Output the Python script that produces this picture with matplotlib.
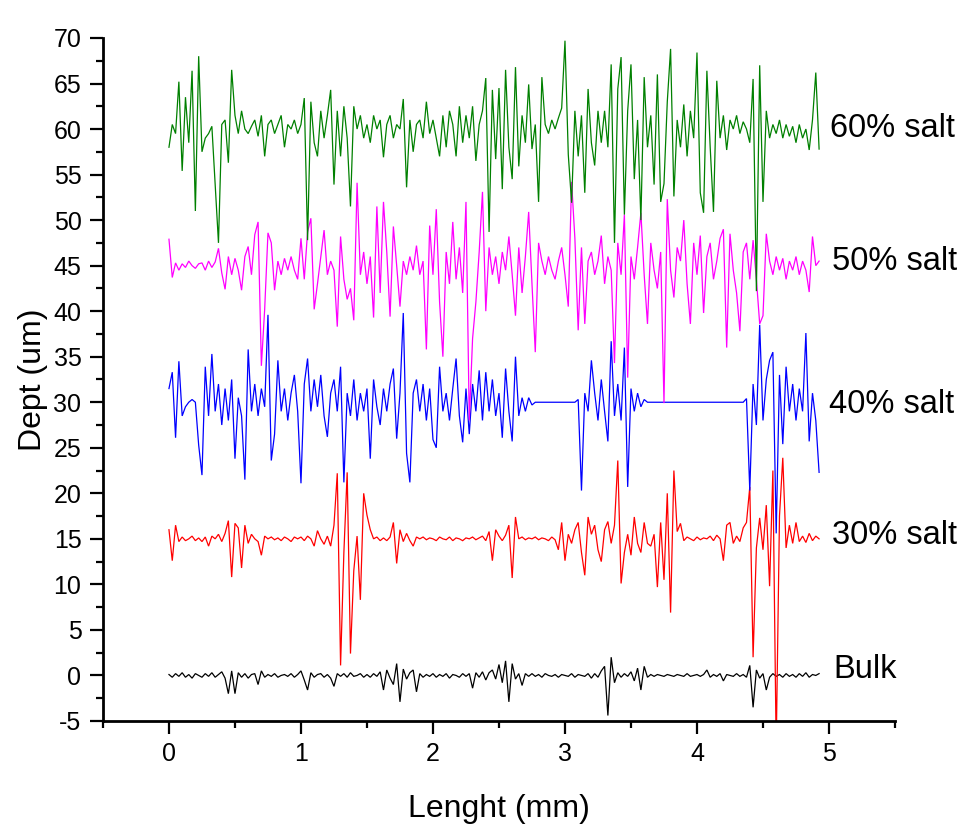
#!/usr/bin/env python3
"""
Surface depth profiles (Bulk, 30-60 % salt), stacked with a fixed offset.
Values were read off the reference picture, one every 0.025 mm.
"""

import numpy as np
import matplotlib
matplotlib.use("Agg")
import matplotlib.pyplot as plt
from matplotlib.ticker import MultipleLocator

plt.rcParams["font.family"] = ["Liberation Sans", "DejaVu Sans"]
plt.rcParams["axes.unicode_minus"] = False

STEP_MM = 0.025

SERIES = ["Bulk", "30% salt", "40% salt", "50% salt", "60% salt"]
OFFSETS = [0, 15, 30, 45, 60]
COLORS = ["black", "#ff0000", "#0000ff", "#ff00ff", "#008000"]

# depth deviation from each profile's own baseline (um)
bulk = [
    0.1, -0.2, 0.2, -0.1, 0.3, -0.2, 0.1, -0.3, 0.2, 0,
    -0.2, 0.2, -0.1, 0.3, -0.2, 0.1, 0.4, -0.3, -2.0, 0.5,
    -2.0, 0.3, -0.2, 0.2, -0.3, 0.1, 0.2, -1.0, 0.5, -0.2,
    0.1, -0.1, 0.2, -0.2, 0, 0.1, -0.1, 0.2, -0.2, 0.1,
    0.5, -0.5, -1.6, 0.3, -0.2, 0.1, 0.2, -0.2, 0.1, -0.3,
    -1.2, 0.2, -0.1, 0.2, -0.2, 0.3, -0.1, 0, 0.2, -0.2,
    0.1, -0.2, 0.2, -0.1, 0.4, -1.6, 0.6, -0.3, -1.0, 1.3,
    -2.9, 0.7, -0.4, 0.3, 0.6, -1.8, 0.2, -0.2, 0.1, -0.1,
    0.2, -0.2, 0.1, -0.1, 0.2, -0.3, 0.1, 0, -0.2, 0.2,
    -0.1, 0.2, -1.4, 0.3, -0.2, 0.4, -0.5, 0.3, 0.6, -0.4,
    1.2, -0.8, 1.6, -2.9, 1.3, -0.4, 0.2, -1.1, 0.2, -0.1,
    0.2, -0.1, 0.1, -0.2, 0.2, 0, -0.1, 0.1, -0.2, 0.1,
    0, -0.1, 0.2, -0.2, 0.1, 0, -0.1, 0.2, -0.3, 0.2,
    -0.2, 0.5, 1.0, -4.4, 2.0, -0.8, 0.3, -0.2, 0.2, -0.1,
    0.4, -0.6, 0.8, -1.6, 1.0, -0.2, 0.1, -0.1, 0.1, 0,
    -0.1, 0.1, 0, -0.1, 0.1, 0, -0.1, 0.2, -0.1, 0,
    0.1, -0.1, 0.1, 0.6, -0.2, 0.1, -0.1, 0.2, -0.6, 0.1,
    0, -0.1, 0.2, -0.1, 0.1, -0.2, 1.1, -3.5, 0.6, -0.3,
    0.2, -1.6, -0.2, 0.2, -0.1, 0.1, -0.2, 0.2, -0.1, 0.1,
    -0.2, 0.2, -0.1, 0.3, -0.2, 0.1, 0, 0.2,
]

salt30 = [
    1.0, -2.4, 1.5, -0.3, 0.2, -0.2, 0, 0.3, -0.2, 0.1,
    -0.3, 0.2, -0.8, 0.3, 0, 0.5, -0.3, 0.6, 2.0, -4.2,
    1.7, 1.2, -3.2, 1.5, -0.5, 0.5, 0, -0.3, -1.8, 0.3,
    0, 0.2, -0.1, 0.1, -0.2, 0.2, 0, -0.3, 0.2, 0,
    0.2, -0.2, 0.3, 0, -0.8, 0.9, 0, -0.6, 0.3, -0.8,
    1.5, 7.2, -13.9, -1.5, 7.3, -12.6, -3.5, 0.3, -6.7, 5.0,
    2.6, 1.0, 0, 0.2, -0.2, 0.1, -0.2, 0.2, 1.8, -2.7,
    1.0, -0.3, 0.6, -0.2, -0.8, 0.2, 0, 0.2, -0.1, 0.1,
    0, -0.2, 0.2, 0, -0.1, 0.2, -0.2, 0.1, 0, -0.2,
    0.1, 0, 0.2, -0.1, 0.1, 0.3, -0.2, 0.8, -2.4, 1.0,
    0.3, -0.2, 0.4, 1.5, -4.3, 2.4, 0, 0.2, -0.1, 0.1,
    0, 0.2, -0.1, 0.1, 0, -0.2, 0.2, -0.1, -1.2, 1.8,
    -2.4, 0.5, -0.5, 1.0, 1.8, -1.5, -4.0, 2.4, 0.5, 1.5,
    -1.2, -2.5, 1.0, 1.9, -0.5, 1.5, 8.6, -4.9, -1.5, 0.5,
    -1.8, 2.4, -0.5, -1.5, 1.8, -0.5, -0.8, 0.5, -5.3, 1.8,
    -4.5, 5.0, -8.1, 7.5, 0.8, 1.7, -0.2, 0.2, 0, -0.2,
    0.2, -0.1, 0.1, 0, 0.3, -0.2, 0.4, 0, -2.4, 1.5,
    1.8, -0.5, 0.3, -0.3, 1.2, 1.8, 5.7, -13.0, -1.0, 2.3,
    -1.2, 3.7, -5.2, 7.5, -23.0, 2.5, 8.9, -1.0, 1.5, -0.5,
    1.8, -0.3, 0.3, -0.4, 0.6, -0.2, 0.3, 0,
]

salt40 = [
    1.5, 3.3, -3.9, 4.5, -1.5, -0.5, 0, 0.3, 0, -4.7,
    -8.0, 3.9, -1.5, 5.3, -1.0, 2.0, -2.5, 1.5, -2.0, 2.5,
    -6.2, 0.5, -1.5, -8.5, 5.8, -1.0, 2.0, -1.5, 1.5, -0.5,
    9.6, -6.4, -3.5, 4.6, -1.0, 1.5, -2.0, 1.0, 3.0, -1.0,
    -8.9, 2.0, 4.8, -1.0, 2.5, -0.5, 3.0, -1.5, -3.8, 1.0,
    2.5, -1.0, 3.9, -8.8, 1.0, -1.5, 2.5, -2.0, 1.0, -1.0,
    1.5, -6.2, 2.5, -0.5, -2.5, 1.5, -1.0, 2.0, 3.7, -4.0,
    1.0, 9.8, -5.6, -8.8, 1.0, 2.5, -1.0, 2.0, -2.0, 1.5,
    -4.1, -5.0, 3.9, -1.0, 1.0, -2.0, 1.5, 4.8, -1.5, -4.4,
    1.5, -3.5, 2.0, -1.0, 3.5, -2.0, 3.3, -1.0, 2.5, -1.5,
    1.0, -3.9, 3.7, -1.0, -4.3, 5.0, -1.5, 0.5, -1.0, 0.5,
    -0.3, 0, 0, 0, 0, 0, 0, 0, 0, 0,
    0, 0, 0, 0, 0.3, -9.7, 1.0, -1.0, 4.6, 1.0,
    -2.0, 2.5, -1.0, -4.3, 6.7, -1.5, 2.0, -2.0, 6.0, -9.3,
    1.5, -1.0, 1.0, -0.5, 0.3, 0, 0, 0, 0, 0,
    0, 0, 0, 0, 0, 0, 0, 0, 0, 0,
    0, 0, 0, 0, 0, 0, 0, 0, 0, 0,
    0, 0, 0, 0, 0, 0.4, -9.7, 2.0, -2.5, 8.5,
    -2.0, 2.5, 4.6, 5.5, -14.4, 3.0, -4.6, 3.9, -1.0, 2.0,
    -2.0, 1.5, -1.0, 7.6, -4.3, 1.0, -2.0, -7.7,
]

salt50 = [
    2.9, -1.3, 0.3, -0.5, 0.2, -0.2, 0.5, 0, -0.3, 0.2,
    0.3, -0.5, 0.5, -0.2, 0.4, 1.9, -0.8, -2.6, 1.0, -1.0,
    0.8, -0.5, -2.7, 1.0, 2.1, -1.0, 3.4, 4.8, -11.0, -4.8,
    3.6, 2.5, -2.7, 0.5, -1.0, 0.8, -0.5, 1.0, -0.5, -1.5,
    3.0, -1.5, 3.7, 5.2, -4.8, -2.0, 1.0, 3.9, -1.0, 0.5,
    -0.5, -6.7, 3.2, -1.5, -3.7, -2.5, -6.0, 9.1, -1.0, 1.5,
    -2.0, 1.0, -5.7, 6.5, -3.0, 7.0, 1.5, -5.6, 4.3, 0,
    -4.5, 0.5, -1.0, 1.0, -0.5, 2.2, -1.0, 0.5, -9.2, 4.4,
    -1.0, 6.2, -4.0, -10.0, 1.5, -2.0, 4.8, -1.5, 2.0, -3.0,
    7.0, -17.0, -8.0, -4.0, 1.5, 8.1, -5.0, 2.0, -1.0, 1.0,
    -2.0, 1.5, -0.5, 3.2, -1.0, -5.5, 2.0, -3.0, 1.0, 5.9,
    -2.0, -9.5, 2.5, 0.5, -1.0, 1.0, -0.5, -1.5, 0.5, 2.0,
    -1.0, -4.5, 9.2, 3.0, -7.1, 2.0, -6.4, 0.5, 1.5, -1.0,
    0.5, 3.3, -2.0, 1.0, -0.5, -10.7, 2.5, -1.0, 5.6, -12.3,
    1.0, -1.5, 2.0, 5.8, -1.0, -6.4, 2.5, -0.5, -2.5, 1.5,
    -15.1, 7.3, -0.5, -3.5, 2.0, 0.5, 5.0, -2.0, -6.4, 2.5,
    -1.0, 3.3, -5.2, 1.0, 2.5, -1.5, 0.5, 3.0, 4.0, -9.0,
    3.5, -0.5, -3.0, -7.2, 1.5, 2.5, -1.5, 2.8, -1.5, -6.4,
    -5.5, 3.5, 0.5, -1.0, 1.0, -0.5, 0.8, -1.5, 0.5, -0.5,
    1.0, -1.0, 0.5, -0.5, -2.9, 3.2, 0, 0.5,
]

salt60 = [
    -2.0, 0.5, -0.5, 5.2, -4.6, 3.5, -1.5, 6.4, -9.0, 8.0,
    -2.5, -1.0, -0.5, 0.3, -6.0, -12.5, 0.5, 1.0, -3.7, 6.5,
    1.5, -0.5, 2.0, 0, -0.5, 0.3, 1.0, -0.8, 1.5, -3.0,
    0.5, 1.0, -0.5, 0.5, 1.5, -2.0, 0.5, 0, 1.0, -0.5,
    0.5, 3.4, -12.2, 3.0, -1.5, -3.0, 2.0, -1.0, 1.5, 4.3,
    -6.1, 2.0, -3.0, 2.5, -1.0, -8.5, 2.5, 0, 1.5, -1.0,
    0.5, -1.5, 1.5, 0, 1.0, -3.1, 0.5, 1.5, -1.0, 0.5,
    0, 3.3, -6.4, 1.0, -2.5, 0.5, 1.0, -1.0, 3.0, -0.5,
    1.0, -1.0, -3.0, 1.5, -2.0, 2.0, 0.5, -3.0, 2.5, -1.5,
    1.5, -1.0, 2.5, -3.5, 0.5, 2.0, 5.6, -11.3, 4.3, -3.3,
    4.5, -6.6, 6.5, -2.0, -5.5, 6.8, -4.1, 1.5, -1.5, 4.9,
    -2.2, 0.5, -8.0, 5.7, 0.5, -0.5, 1.0, 0, 1.2, 2.3,
    9.7, -2.8, -8.1, 2.0, -3.0, 1.5, -7.0, 4.4, -1.5, -4.0,
    2.0, -1.5, 2.0, -2.0, 7.1, -12.5, 4.4, 7.9, -9.4, 2.0,
    7.1, -5.5, 1.0, -10.0, 5.7, -2.0, 1.5, -6.1, 6.0, -8.0,
    -6.0, 3.0, 8.8, -7.4, 1.0, -2.0, 2.7, -3.0, 2.0, -1.0,
    8.4, -7.0, -9.2, 6.4, -2.0, -9.1, 5.3, -1.0, 1.5, -2.3,
    1.0, 0, 1.5, -0.5, 0.8, 0, -1.5, 5.5, -17.8, 7.0,
    -8.0, 2.0, -1.0, 0.5, -0.5, 1.0, -1.0, 0.5, -0.8, 0.3,
    -1.5, 0.5, -1.0, 0, -2.3, 1.0, 6.2, -2.2,
]

PROFILES = [bulk, salt30, salt40, salt50, salt60]
LABEL_Y = [0.6, 15.4, 29.8, 45.5, 60.1]
LABEL_X = [5.03, 5.02, 5.0, 5.02, 5.01]


def main():
    fig = plt.figure(figsize=(9.76, 8.40), dpi=100)
    ax = fig.add_axes([0.1055, 0.1417, 0.8115, 0.8131])

    for prof, off, col in zip(PROFILES, OFFSETS, COLORS):
        depth = np.asarray(prof) + off
        x = np.arange(len(depth)) * STEP_MM
        ax.plot(x, depth, color=col, lw=0.9, solid_joinstyle="miter")

    for name, lx, ly in zip(SERIES, LABEL_X, LABEL_Y):
        ax.text(lx, ly, name, fontsize=23.5, ha="left", va="center")

    ax.set_xlim(-0.5, 5.5)
    ax.set_ylim(-5, 70)
    ax.xaxis.set_major_locator(MultipleLocator(1))
    ax.xaxis.set_minor_locator(MultipleLocator(0.5))
    ax.yaxis.set_major_locator(MultipleLocator(5))
    ax.yaxis.set_minor_locator(MultipleLocator(2.5))

    for side in ("top", "right"):
        ax.spines[side].set_visible(False)
    for side in ("left", "bottom"):
        ax.spines[side].set_linewidth(2.0)

    ax.tick_params(which="major", direction="out", length=9.5, width=1.6,
                   labelsize=18, pad=6)
    ax.tick_params(which="minor", direction="out", length=5, width=1.6)

    ax.set_xlabel("Lenght (mm)", fontsize=23, labelpad=20)
    ax.set_ylabel("Dept (um)", fontsize=23, labelpad=4)

    fig.savefig("out.png", dpi=100)
    plt.close(fig)


if __name__ == "__main__":
    main()
